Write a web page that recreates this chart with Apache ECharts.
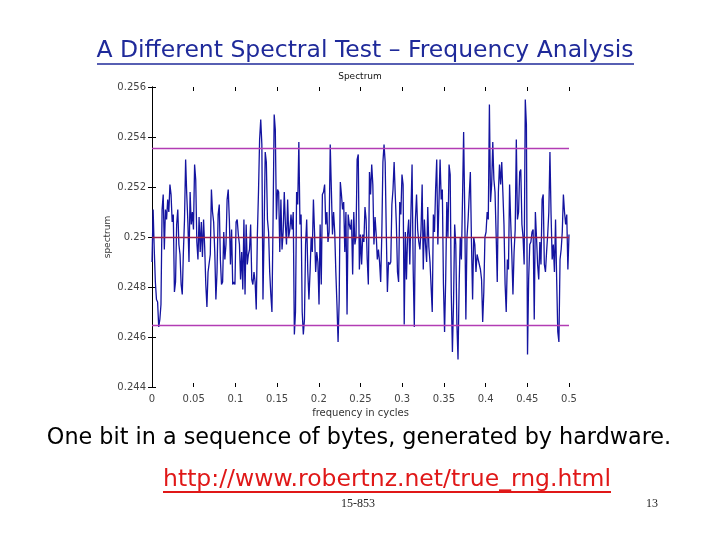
<!DOCTYPE html>
<html>
<head>
<meta charset="utf-8">
<script src="https://cdn.jsdelivr.net/npm/echarts@6/dist/echarts.min.js"></script>
<style>
html,body{margin:0;padding:0;background:#fff;}
#chart{width:720px;height:540px;}
</style>
</head>
<body>
<div id="chart"></div>
<script>
// Spectrum values, left (0) to right (0.5)
const spectrumA = [0.2490,0.2511,0.2495,0.2482,0.2475,0.2474,0.2464,0.2467,0.2473,0.2511,
0.2517,0.2495,0.2511,0.2507,0.2515,0.2510,0.2521,0.2517,0.2506,0.2509,
0.2478,0.2482,0.2505,0.2511,0.2497,0.2493,0.2481,0.2477,0.2494,0.2507,
0.2531,0.2517,0.2506,0.2490,0.2518,0.2505,0.2510,0.2503,0.2529,0.2523,
0.2498,0.2491,0.2508,0.2494,0.2506,0.2492,0.2507,0.2496,0.2481,0.2472,
0.2486,0.2486,0.2493,0.2519,0.2510,0.2506,0.2494,0.2475,0.2486,0.2509,
0.2513,0.2491,0.2481];
const spectrumB = [0.2482,0.2502,0.2491,0.2497,0.2515,0.2519,0.2507,0.2489,0.2503,0.2481,
0.2482,0.2481,0.2506,0.2507,0.2501,0.2497,0.2483,0.2494,0.2479,0.2507,
0.2477,0.2505,0.2489,0.2493,0.2495,0.2505,0.2483,0.2481,0.2486,0.2482,
0.2471,0.2501,0.2518,0.2539,0.2547,0.2537,0.2475,0.2502,0.2534,0.2530,
0.2507,0.2502,0.2486,0.2477,0.2470,0.2507,0.2549,0.2543,0.2507,0.2519,
0.2518,0.2494,0.2515,0.2495,0.2502,0.2518,0.2505,0.2497,0.2515,0.2500,
0.2503,0.2509];
const spectrumC = [0.2503,0.2510,0.2461,0.2470,0.2518,0.2513,0.2538,0.2505,0.2509,0.2470,
0.2461,0.2467,0.2497,0.2507,0.2486,0.2475,0.2486,0.2500,0.2494,0.2515,
0.2502,0.2486,0.2494,0.2490,0.2473,0.2505,0.2481,0.2517,0.2518,0.2521,
0.2505,0.2510,0.2498,0.2502,0.2537,0.2537,0.2501,0.2510,0.2502,0.2486,
0.2473,0.2458,0.2475,0.2522,0.2517,0.2511,0.2514,0.2494,0.2510,0.2469,
0.2509,0.2505,0.2503,0.2507,0.2485,0.2510,0.2497,0.2500,0.2531,0.2533,
0.2487,0.2501];
const spectrumD = [0.2489,0.2501,0.2498,0.2512,0.2507,0.2491,0.2481,0.2526,0.2517,0.2529,
0.2521,0.2497,0.2508,0.2501,0.2491,0.2495,0.2490,0.2482,0.2501,0.2530,
0.2537,0.2530,0.2502,0.2478,0.2490,0.2489,0.2490,0.2513,0.2519,0.2530,
0.2517,0.2505,0.2486,0.2482,0.2514,0.2509,0.2525,0.2521,0.2465,0.2502,
0.2483,0.2501,0.2507,0.2489,0.2510,0.2529,0.2487,0.2464,0.2507,0.2517,
0.2503,0.2498,0.2495,0.2503,0.2521,0.2487,0.2507,0.2497,0.2490,0.2512,
0.2496,0.2490];
const spectrumE = [0.2490,0.2470,0.2509,0.2502,0.2519,0.2531,0.2497,0.2514,0.2531,0.2515,
0.2519,0.2481,0.2462,0.2483,0.2514,0.2500,0.2529,0.2525,0.2477,0.2454,
0.2474,0.2505,0.2497,0.2465,0.2451,0.2481,0.2500,0.2491,0.2515,0.2542,
0.2510,0.2467,0.2500,0.2507,0.2517,0.2526,0.2498,0.2475,0.2500,0.2497,
0.2486,0.2493,0.2491,0.2489,0.2487,0.2483,0.2466,0.2478,0.2500,0.2502,
0.2510,0.2507,0.2553,0.2514,0.2521,0.2538,0.2523,0.2518,0.2501,0.2482,
0.2518,0.2529,0.2521];
const spectrumF = [0.2530,0.2518,0.2505,0.2481,0.2470,0.2491,0.2487,0.2521,0.2506,0.2493,
0.2477,0.2494,0.2503,0.2539,0.2507,0.2510,0.2526,0.2527,0.2505,0.2500,
0.2489,0.2555,0.2545,0.2453,0.2483,0.2497,0.2498,0.2502,0.2503,0.2467,
0.2510,0.2500,0.2489,0.2483,0.2498,0.2489,0.2515,0.2517,0.2489,0.2486,
0.2494,0.2501,0.2510,0.2534,0.2509,0.2491,0.2497,0.2486,0.2507,0.2483,
0.2462,0.2458,0.2491,0.2495,0.2502,0.2517,0.2510,0.2505,0.2509,0.2487,
0.2501];
const thresholdLines = [0.25355, 0.25, 0.24645];
const xTicks = [0, 0.05, 0.1, 0.15, 0.2, 0.25, 0.3, 0.35, 0.4, 0.45, 0.5];
const yTicks = [0.244, 0.246, 0.248, 0.25, 0.252, 0.254, 0.256];

const spectrum = [].concat(spectrumA, spectrumB, spectrumC, spectrumD, spectrumE, spectrumF);
const N = spectrum.length;
const fMax = xTicks[xTicks.length - 1];
const seriesData = spectrum.map((v, i) => [i * fMax / (N - 1), v]);

const chart = echarts.init(document.getElementById('chart'), null, {renderer: 'canvas'});
const tickFont = {fontFamily: 'DejaVu Sans', fontSize: 10, color: '#444'};
const axisCommon = {
  type: 'value', splitLine: {show: false},
  axisTick: {show: true, inside: true, length: 4, lineStyle: {color: '#000'}},
  axisLine: {show: true, lineStyle: {color: '#000', width: 1}}
};
chart.setOption({
  animation: false,
  backgroundColor: '#ffffff',
  grid: {left: 152, right: 151, top: 87, bottom: 153, containLabel: false},
  xAxis: [
    Object.assign({}, axisCommon, {
      position: 'bottom', min: xTicks[0], max: fMax, interval: 0.05,
      axisLine: {show: false},
      axisLabel: Object.assign({}, tickFont, {margin: 7}),
      name: 'frequency in cycles', nameLocation: 'middle', nameGap: 20,
      nameTextStyle: {fontFamily: 'DejaVu Sans', fontSize: 10, color: '#333'}
    }),
    Object.assign({}, axisCommon, {
      position: 'top', min: xTicks[0], max: fMax, interval: 0.05,
      axisLine: {show: false}, axisLabel: {show: false}
    })
  ],
  yAxis: [
    Object.assign({}, axisCommon, {
      position: 'left', min: yTicks[0], max: yTicks[yTicks.length - 1], interval: 0.002,
      axisLabel: Object.assign({}, tickFont, {margin: 6}),
      name: 'spectrum', nameLocation: 'middle', nameGap: 40, nameRotate: 90,
      nameMoveOverlap: false,
      nameTextStyle: {fontFamily: 'DejaVu Sans', fontSize: 9, color: '#333'}
    }),
    Object.assign({}, axisCommon, {
      position: 'right', min: yTicks[0], max: yTicks[yTicks.length - 1], interval: 0.002,
      axisLabel: {show: false}
    })
  ],
  title: {
    text: 'Spectrum', left: 360, top: 72, textAlign: 'center', padding: 0,
    textStyle: {fontFamily: 'DejaVu Sans', fontSize: 9, fontWeight: 'normal', color: '#111'}
  },
  series: [{
    type: 'line', data: seriesData, showSymbol: false, symbol: 'none',
    lineStyle: {color: '#1414a0', width: 1.3},
    z: 2,
    markLine: {
      silent: true, symbol: ['none', 'none'], label: {show: false},
      precision: 6, z: 5,
      data: [
        {yAxis: thresholdLines[0], lineStyle: {color: '#b23cb4', width: 1.3, type: 'solid'}},
        {yAxis: thresholdLines[1], lineStyle: {color: '#a0204a', width: 1.3, type: 'solid'}},
        {yAxis: thresholdLines[2], lineStyle: {color: '#b23cb4', width: 1.3, type: 'solid'}}
      ]
    }
  }],
  graphic: [
    {type: 'text', x: 365, y: 39, style: {text: 'A Different Spectral Test \u2013 Frequency Analysis', font: '23.5px "DejaVu Sans"', fill: '#1f2a9a', textAlign: 'center'}},
    {type: 'line', shape: {x1: 97, y1: 64, x2: 634, y2: 64}, style: {stroke: '#1f2a9a', lineWidth: 1.5}},
    {type: 'text', x: 359, y: 427, style: {text: 'One bit in a sequence of bytes, generated by hardware.', font: '22.3px "DejaVu Sans"', fill: '#000', textAlign: 'center'}},
    {type: 'text', x: 387, y: 468, style: {text: 'http://www.robertnz.net/true_rng.html', font: '23.5px "DejaVu Sans"', fill: '#e01818', textAlign: 'center'}},
    {type: 'line', shape: {x1: 163, y1: 492, x2: 611, y2: 492}, style: {stroke: '#e01818', lineWidth: 2}},
    {type: 'text', x: 358, y: 498, style: {text: '15-853', font: '12px "Liberation Serif"', fill: '#222', textAlign: 'center'}},
    {type: 'text', x: 652, y: 498, style: {text: '13', font: '12px "Liberation Serif"', fill: '#222', textAlign: 'center'}}
  ]
});
</script>
</body>
</html>
